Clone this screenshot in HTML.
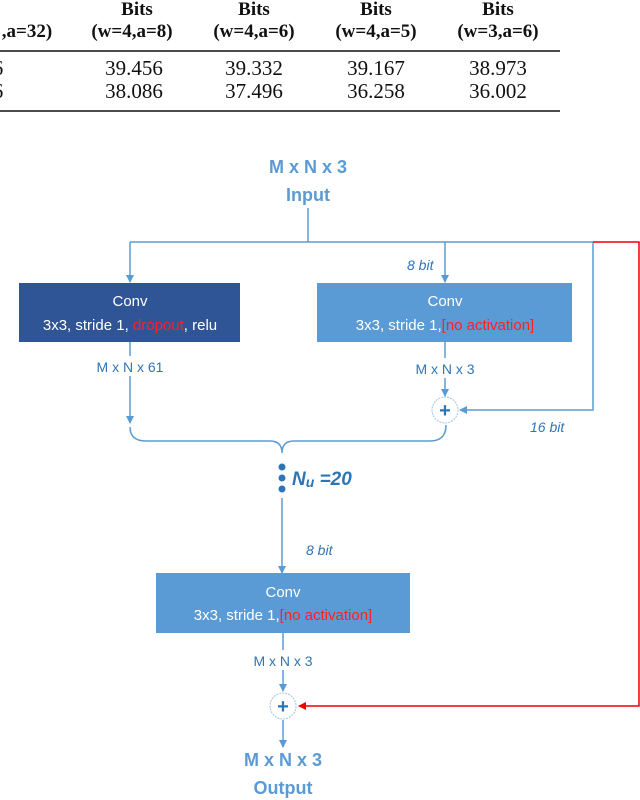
<!DOCTYPE html>
<html><head><meta charset="utf-8"><style>
body{margin:0;width:640px;height:800px;background:#fff;overflow:hidden;position:relative}
svg{position:absolute;left:0;top:0}
</style></head><body>
<svg width="640" height="800" viewBox="0 0 640 800" xmlns="http://www.w3.org/2000/svg">
<defs>
<marker id="a" markerWidth="8" markerHeight="8" refX="7" refY="4" orient="auto" markerUnits="userSpaceOnUse"><path d="M0,0 L8,4 L0,8 z" fill="#5b9bd5"/></marker>
<marker id="r" markerWidth="8" markerHeight="8" refX="7" refY="4" orient="auto" markerUnits="userSpaceOnUse"><path d="M0,0 L8,4 L0,8 z" fill="#e00"/></marker>
</defs>
<g font-family="Liberation Serif, serif" font-size="19" text-anchor="middle" fill="#111">
<g font-weight="bold">
<text x="137" y="15">Bits</text><text x="254" y="15">Bits</text><text x="376" y="15">Bits</text><text x="498" y="15">Bits</text>
<text x="27" y="37">,a=32)</text>
<text x="132" y="37">(w=4,a=8)</text><text x="254" y="37">(w=4,a=6)</text><text x="376" y="37">(w=4,a=5)</text><text x="498" y="37">(w=3,a=6)</text>
</g>
<g font-size="21">
<text x="-2" y="75">6</text><text x="-2" y="98">6</text>
<text x="134" y="75">39.456</text><text x="254" y="75">39.332</text><text x="376" y="75">39.167</text><text x="498" y="75">38.973</text>
<text x="134" y="98">38.086</text><text x="254" y="98">37.496</text><text x="376" y="98">36.258</text><text x="498" y="98">36.002</text>
</g>
</g>
<line x1="0" y1="51" x2="560" y2="51" stroke="#111" stroke-width="1.5"/>
<line x1="0" y1="111" x2="560" y2="111" stroke="#111" stroke-width="1.5"/>

<g font-family="Liberation Sans, sans-serif" text-anchor="middle">
<text x="308" y="173" font-size="18" font-weight="bold" fill="#5b9bd5">M x N x 3</text>
<text x="308" y="201" font-size="18" font-weight="bold" fill="#5b9bd5">Input</text>
</g>
<g stroke="#5b9bd5" stroke-width="1.5" fill="none">
<line x1="308" y1="208" x2="308" y2="242"/>
<line x1="130" y1="242" x2="593" y2="242"/>
<line x1="130" y1="242" x2="130" y2="282" marker-end="url(#a)"/>
<line x1="445" y1="242" x2="445" y2="282" marker-end="url(#a)"/>
<polyline points="593,242 593,410 460,410" marker-end="url(#a)"/>
<line x1="130" y1="342" x2="130" y2="356"/>
<line x1="130" y1="376" x2="130" y2="423" marker-end="url(#a)"/>
<line x1="445" y1="342" x2="445" y2="358"/>
<line x1="445" y1="378" x2="445" y2="396" marker-end="url(#a)"/>
<path d="M130,427 Q130,441 146,441 L270,441 Q282,441 282,453 Q282,441 294,441 L430,441 Q446,441 446,425"/>
<line x1="282" y1="498" x2="282" y2="573" marker-end="url(#a)"/>
<line x1="283" y1="633" x2="283" y2="650"/>
<line x1="283" y1="670" x2="283" y2="691" marker-end="url(#a)"/>
<line x1="283" y1="720" x2="283" y2="747" marker-end="url(#a)"/>
</g>
<polyline points="593,242 639,242 639,706 299,706" stroke="#e00" stroke-width="1.5" fill="none" marker-end="url(#r)"/>
<circle cx="445" cy="410" r="13" fill="#fff" stroke="#9dc3e6" stroke-dasharray="2,1"/>
<circle cx="283" cy="706" r="13" fill="#fff" stroke="#9dc3e6" stroke-dasharray="2,1"/>
<g font-family="Liberation Sans, sans-serif" font-size="20" font-weight="bold" fill="#2e75b6" text-anchor="middle">
<text x="445" y="417">+</text><text x="283" y="713">+</text>
</g>
<rect x="19" y="283" width="221" height="59" fill="#2f5597"/>
<rect x="317" y="283" width="255" height="59" fill="#5b9bd5"/>
<rect x="156" y="573" width="254" height="60" fill="#5b9bd5"/>
<g font-family="Liberation Sans, sans-serif" font-size="15" fill="#fff" text-anchor="middle">
<text x="130" y="306">Conv</text>
<text x="130" y="330">3x3, stride 1, <tspan fill="#ff2020">dropout</tspan>, relu</text>
<text x="445" y="306">Conv</text>
<text x="445" y="330">3x3, stride 1,<tspan fill="#ff2020">[no activation]</tspan></text>
<text x="283" y="597">Conv</text>
<text x="283" y="620">3x3, stride 1,<tspan fill="#ff2020">[no activation]</tspan></text>
</g>
<g font-family="Liberation Sans, sans-serif" font-size="14" fill="#2e75b6" text-anchor="middle">
<text x="130" y="372">M x N x 61</text>
<text x="445" y="374">M x N x 3</text>
<text x="283" y="666">M x N x 3</text>
</g>
<g font-family="Liberation Sans, sans-serif" font-size="14" font-style="italic" fill="#2e75b6">
<text x="407" y="270">8 bit</text>
<text x="530" y="432">16 bit</text>
<text x="306" y="555">8 bit</text>
</g>
<g fill="#2e75b6"><circle cx="282" cy="467" r="3.5"/><circle cx="282" cy="478" r="3.5"/><circle cx="282" cy="489" r="3.5"/></g>
<text x="292" y="485" font-family="Liberation Sans, sans-serif" font-size="19" font-weight="bold" font-style="italic" fill="#2e75b6">N<tspan font-size="14" dy="2">u</tspan><tspan dy="-2"> =20</tspan></text>
<g font-family="Liberation Sans, sans-serif" text-anchor="middle" font-size="18" font-weight="bold" fill="#5b9bd5">
<text x="283" y="766">M x N x 3</text>
<text x="283" y="794">Output</text>
</g>
</svg>
</body></html>
